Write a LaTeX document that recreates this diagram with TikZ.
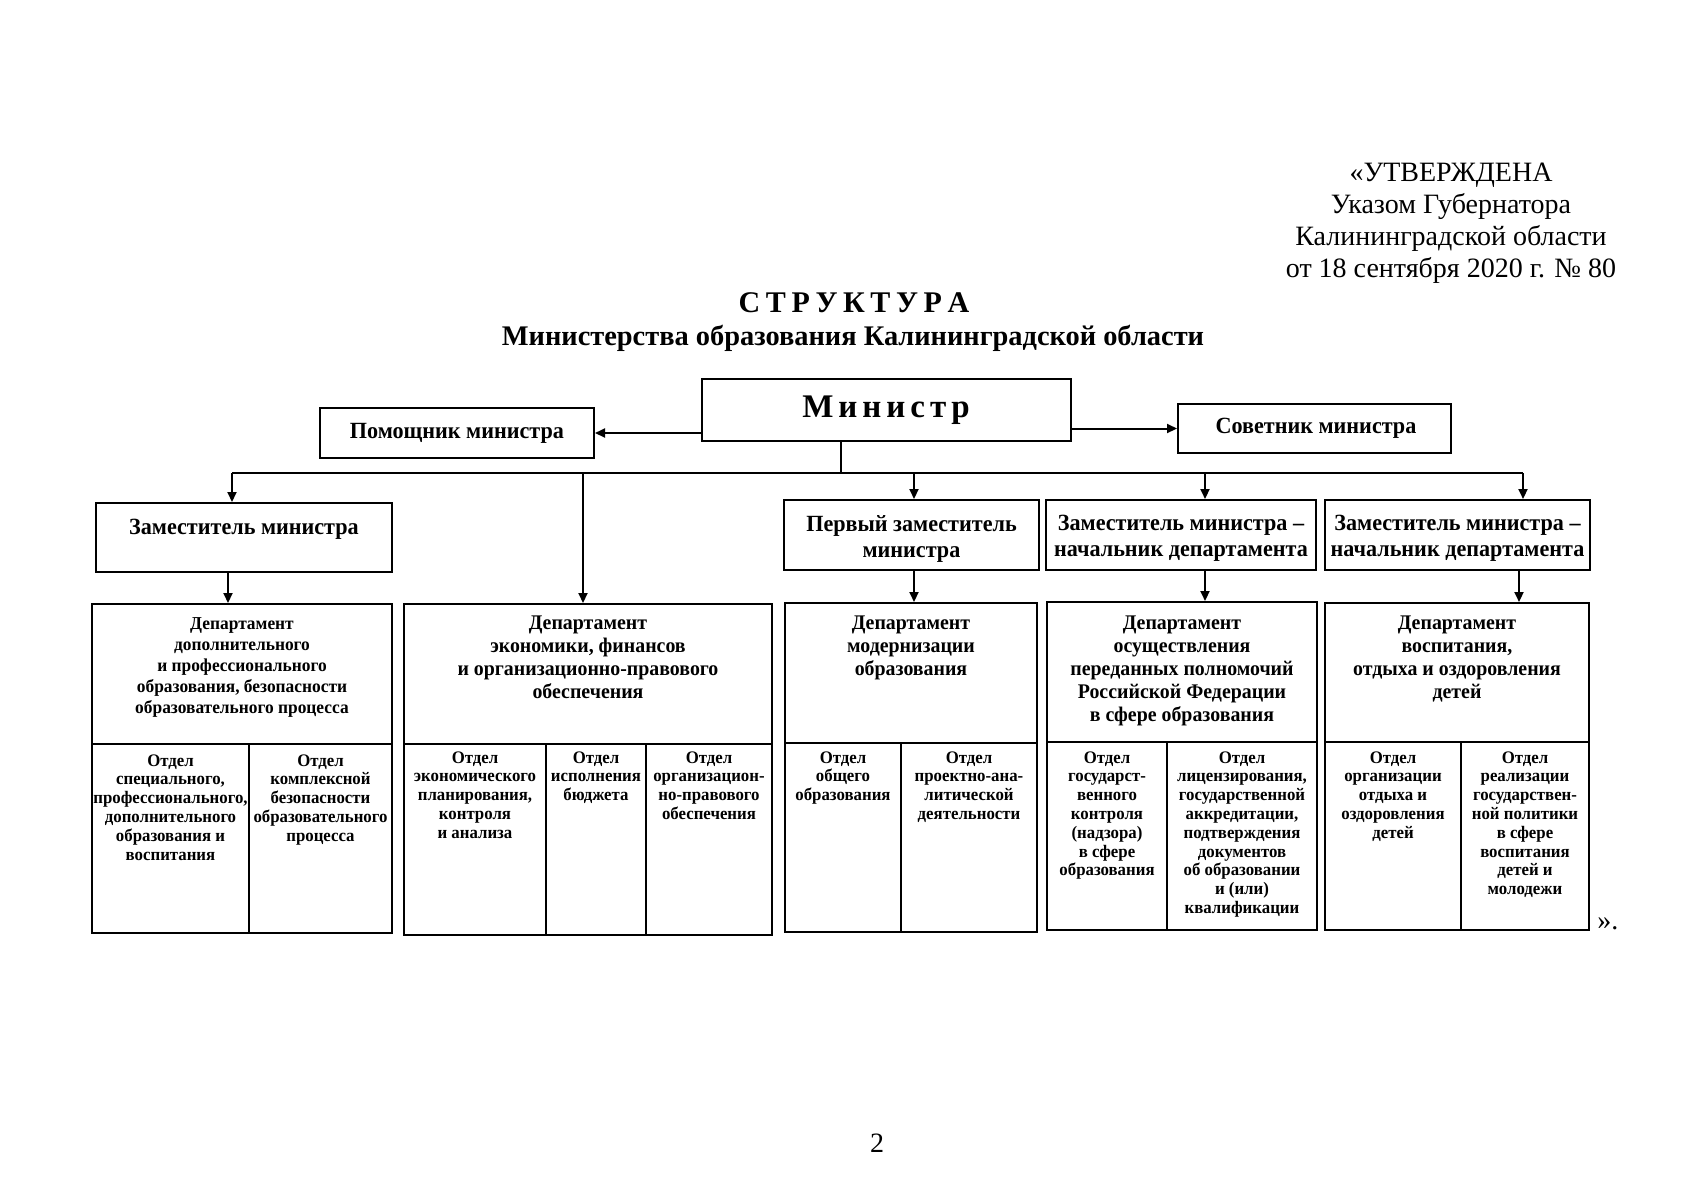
\documentclass[tikz,border=0pt]{standalone}
\usepackage{fontspec}
\setmainfont{Liberation Serif}
\newfontfamily\cbf{Liberation Serif}[FakeStretch=0.955]
\usetikzlibrary{arrows.meta,fit}
\begin{document}
\begin{tikzpicture}[x=0.5pt,y=-0.5pt,
  box/.style={draw, line width=1pt, inner sep=0pt},
  conn/.style={line width=1pt},
  arr/.style={line width=1pt,-{Triangle[length=5pt,width=4.5pt]}},
  txt/.style={inner sep=0pt, align=center},
  plain/.style={txt, font=\fontsize{14pt}{16pt}\selectfont},
  lvltwo/.style={txt, font=\cbf\fontsize{11.6pt}{13pt}\selectfont\bfseries},
  dept/.style={txt, anchor=north, font=\cbf\fontsize{10.4pt}{11.5pt}\selectfont\bfseries},
  deptsmall/.style={txt, anchor=north, font=\cbf\fontsize{9.1pt}{10.5pt}\selectfont\bfseries},
  sub/.style={txt, anchor=north, font=\cbf\fontsize{8.8pt}{9.4pt}\selectfont\bfseries},
]
\fill[white] (0,0) rectangle (1707,1200);
\useasboundingbox (0,0) rectangle (1707,1200);

% header
\node[plain, anchor=north] (appr) at (1451,163) {«УТВЕРЖДЕНА\\Указом Губернатора\\Калининградской области\\от 18 сентября 2020 г. № 80};
\node[txt, anchor=base, font=\fontsize{15pt}{18pt}\selectfont\bfseries] (ttl) at (854,312) {\spaceskip=2.8pt С Т Р У К Т У Р А};
\node[txt, anchor=base, font=\fontsize{14.2pt}{16pt}\selectfont\bfseries] (sttl) at (853,345) {Министерства образования Калининградской области};

% top level
\node[box, fit={(702,379) (1071,441)}] (min) {};
\node[txt, anchor=base, font=\fontsize{16.5pt}{18pt}\selectfont\bfseries] (mint) at (886,417) {\spaceskip=2.5pt М и н и с т р};
\node[box, fit={(320,408) (594,458)}] (pom) {};
\node[lvltwo, anchor=base] (pomt) at (457,438) {Помощник министра};
\node[box, fit={(1178,404) (1451,453)}] (sov) {};
\node[lvltwo, anchor=base] (sovt) at (1316,433) {Советник министра};

% second level
\node[box, fit={(96,503) (392,572)}] (zam) {};
\node[lvltwo, anchor=base] (zamt) at (244,534) {Заместитель министра};
\node[box, fit={(784,500) (1039,570)}] (perv) {};
\node[lvltwo, anchor=north] (pervt) at (911.5,515) {Первый заместитель\\министра};
\node[box, fit={(1046,500) (1316,570)}] (zna) {};
\node[lvltwo, anchor=north] (znat) at (1181,515) {Заместитель министра –\\начальник департамента};
\node[box, fit={(1325,500) (1590,570)}] (znb) {};
\node[lvltwo, anchor=north] (znbt) at (1457.5,515) {Заместитель министра –\\начальник департамента};

% departments
\node[box, fit={(92,604) (392,933)}] (da) {};
\draw[conn] (92,744) -- (392,744);
\draw[conn] (249,744) -- (249,933);
\node[deptsmall] (dat) at (242,617) {Департамент\\дополнительного\\и профессионального\\образования, безопасности\\образовательного процесса};
\node[sub] (daa) at (170.5,754) {Отдел\\специального,\\профессионального,\\дополнительного\\образования и\\воспитания};
\node[sub] (dab) at (320.5,754) {Отдел\\комплексной\\безопасности\\образовательного\\процесса};

\node[box, fit={(404,604) (772,935)}] (db) {};
\draw[conn] (404,744) -- (772,744);
\draw[conn] (546,744) -- (546,935);
\draw[conn] (646,744) -- (646,935);
\node[dept] (dbt) at (588,615) {Департамент\\экономики, финансов\\и организационно-правового\\обеспечения};
\node[sub] (dba) at (475,751) {Отдел\\экономического\\планирования,\\контроля\\и анализа};
\node[sub] (dbb) at (596,751) {Отдел\\исполнения\\бюджета};
\node[sub] (dbc) at (709,751) {Отдел\\организацион-\\но-правового\\обеспечения};

\node[box, fit={(785,603) (1037,932)}] (dc) {};
\draw[conn] (785,743) -- (1037,743);
\draw[conn] (901,743) -- (901,932);
\node[dept] (dct) at (911,615) {Департамент\\модернизации\\образования};
\node[sub] (dca) at (843,751) {Отдел\\общего\\образования};
\node[sub] (dcb) at (969,751) {Отдел\\проектно-ана-\\литической\\деятельности};

\node[box, fit={(1047,602) (1317,930)}] (dd) {};
\draw[conn] (1047,742) -- (1317,742);
\draw[conn] (1167,742) -- (1167,930);
\node[dept] (ddt) at (1182,615) {Департамент\\осуществления\\переданных полномочий\\Российской Федерации\\в сфере образования};
\node[sub] (dda) at (1107,751) {Отдел\\государст-\\венного\\контроля\\(надзора)\\в сфере\\образования};
\node[sub] (ddb) at (1242,751) {Отдел\\лицензирования,\\государственной\\аккредитации,\\подтверждения\\документов\\об образовании\\и (или)\\квалификации};

\node[box, fit={(1325,603) (1589,930)}] (de) {};
\draw[conn] (1325,742) -- (1589,742);
\draw[conn] (1461,742) -- (1461,930);
\node[dept] (det) at (1457,615) {Департамент\\воспитания,\\отдыха и оздоровления\\детей};
\node[sub] (dea) at (1393,751) {Отдел\\организации\\отдыха и\\оздоровления\\детей};
\node[sub] (deb) at (1525,751) {Отдел\\реализации\\государствен-\\ной политики\\в сфере\\воспитания\\детей и\\молодежи};

% connectors
\draw[arr] (min.west |- pom.east) -- (pom.east);
\draw[arr] (min.east |- sov.west) -- (sov.west);
\coordinate (bus) at (841,473);
\coordinate (busL) at (232,473);
\coordinate (busR) at (1523,473);
\coordinate (bb) at (583,473);
\coordinate (bc) at (914,473);
\coordinate (bd) at (1205,473);
\draw[conn] (min.south -| bus) -- (bus);
\draw[conn] (busL) -- (busR);
\draw[arr] (busL) -- (busL |- zam.north);
\draw[arr] (bb) -- (bb |- db.north);
\draw[arr] (bc) -- (bc |- perv.north);
\draw[arr] (bd) -- (bd |- zna.north);
\draw[arr] (busR) -- (busR |- znb.north);
\coordinate (xa) at (228,0);
\coordinate (xe) at (1519,0);
\draw[arr] (zam.south -| xa) -- (da.north -| xa);
\draw[arr] (perv.south -| bc) -- (dc.north -| bc);
\draw[arr] (zna.south -| bd) -- (dd.north -| bd);
\draw[arr] (znb.south -| xe) -- (de.north -| xe);

\node[plain, anchor=base west] (quote) at (1597,929) {».};
\node[plain, anchor=base] (pg) at (877,1152) {2};
\end{tikzpicture}
\end{document}
